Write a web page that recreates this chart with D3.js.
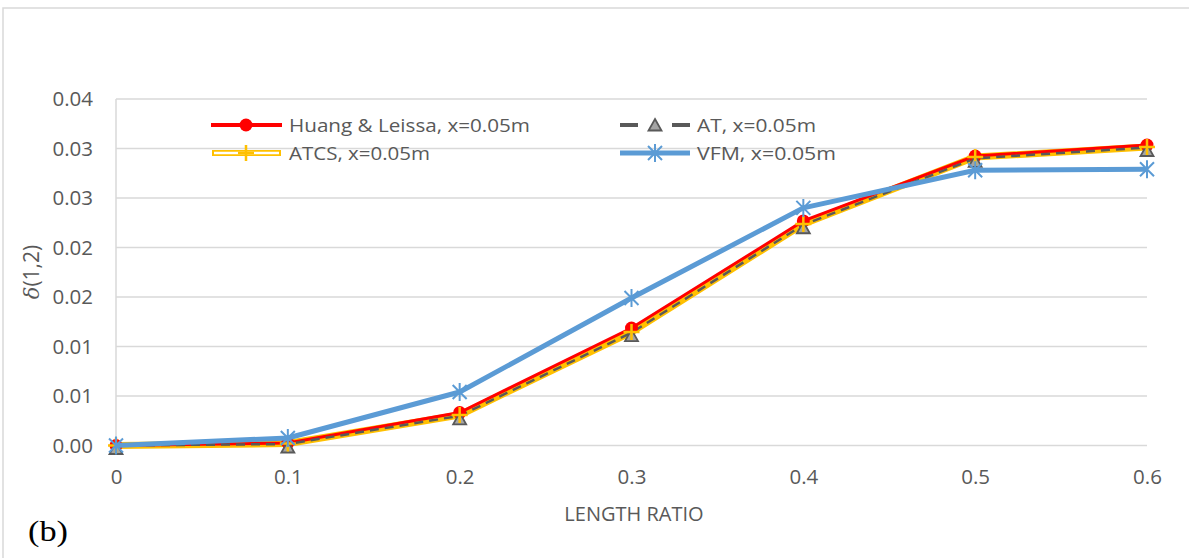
<!DOCTYPE html>
<html>
<head>
<meta charset="utf-8">
<script src="https://cdn.jsdelivr.net/npm/d3@7"></script>
<style>
  html, body { margin: 0; padding: 0; background: #fff; }
  svg { display: block; font-family: "Open Sans", "Noto Sans", sans-serif; }
</style>
</head>
<body>
<svg id="chart" width="1189" height="558"></svg>
<script>
// Length ratio values on the x axis
const lengthRatio = [0, 0.1, 0.2, 0.3, 0.4, 0.5, 0.6];

// δ(1,2) for each method at x = 0.05 m
const huangLeissa = [0, 0.00025, 0.00333, 0.01187, 0.02268, 0.02924, 0.03035];
const atValues    = [0, 0.00015, 0.00300, 0.01140, 0.02230, 0.02900, 0.03010];
const atcsValues  = [0, 0.00020, 0.00308, 0.01146, 0.02237, 0.02914, 0.03015];
const vfmValues   = [0, 0.00076, 0.00540, 0.01490, 0.02400, 0.02780, 0.02790];

// Axis ticks
const yTickValues = [0, 0.005, 0.01, 0.015, 0.02, 0.025, 0.03, 0.035];
const yTickLabels = ["0.00", "0.01", "0.01", "0.02", "0.02", "0.03", "0.03", "0.04"];
const xTickValues = [0, 0.1, 0.2, 0.3, 0.4, 0.5, 0.6];
const xTickLabels = ["0", "0.1", "0.2", "0.3", "0.4", "0.5", "0.6"];

const seriesNames = ["Huang & Leissa, x=0.05m", "AT, x=0.05m", "ATCS, x=0.05m", "VFM, x=0.05m"];

const svg = d3.select("#chart");
const grid = "#d9d9d9";
const textCol = "#595959";

// Outer chart frame
svg.append("rect").attr("x", 3).attr("y", 8).attr("width", 1200).attr("height", 600)
  .attr("fill", "none").attr("stroke", grid).attr("stroke-width", 1.5);

const x = d3.scaleLinear().domain([0, 0.6]).range([116, 1147]);
const y = d3.scaleLinear().domain([0, 0.035]).range([445.5, 99]);

// Horizontal gridlines
svg.append("g").selectAll("line").data(yTickValues).join("line")
  .attr("x1", x(0)).attr("x2", x(0.6))
  .attr("y1", d => y(d)).attr("y2", d => y(d))
  .attr("stroke", grid).attr("stroke-width", 1.5);

// Vertical axis line
svg.append("line").attr("x1", x(0)).attr("x2", x(0))
  .attr("y1", y(0.035)).attr("y2", y(0))
  .attr("stroke", grid).attr("stroke-width", 1.5);

// Y axis labels
const yAxis = d3.axisLeft(y).tickValues(yTickValues)
  .tickFormat((d, i) => yTickLabels[i]).tickSize(0).tickPadding(0);
const gy = svg.append("g").attr("transform", `translate(${x(0) - 23},0)`).call(yAxis);
gy.select(".domain").remove();
gy.selectAll("text").attr("font-size", 20.5).attr("fill", textCol)
  .attr("font-family", "'Open Sans', sans-serif");

// X axis labels
const xAxis = d3.axisBottom(x).tickValues(xTickValues)
  .tickFormat((d, i) => xTickLabels[i]).tickSize(0).tickPadding(0);
const gx = svg.append("g").attr("transform", `translate(0,${y(0) + 24})`).call(xAxis);
gx.select(".domain").remove();
gx.selectAll("text").attr("font-size", 20.5).attr("fill", textCol)
  .attr("font-family", "'Open Sans', sans-serif");

// Axis titles
svg.append("text").attr("x", 634).attr("y", 521).attr("text-anchor", "middle")
  .attr("font-size", 20).attr("fill", textCol).text("LENGTH RATIO");

const yTitle = svg.append("text")
  .attr("transform", "translate(39,272) rotate(-90)")
  .attr("text-anchor", "middle").attr("font-size", 21).attr("fill", textCol);
yTitle.append("tspan").attr("font-style", "italic").attr("font-family", "'DejaVu Serif', serif").text("δ");
yTitle.append("tspan").text("(1,2)");

svg.append("text").attr("x", 28).attr("y", 541)
  .attr("font-family", "'Liberation Serif', 'Times New Roman', serif")
  .attr("font-size", 29).attr("textLength", 40).attr("lengthAdjust", "spacingAndGlyphs")
  .attr("fill", "#000").text("(b)");

const line = d3.line().x((d, i) => x(lengthRatio[i])).y(d => y(d));

// Series lines
svg.append("path").datum(atcsValues).attr("d", line)
  .attr("fill", "none").attr("stroke", "#ffc000").attr("stroke-width", 7).attr("stroke-linejoin", "round");
svg.append("path").datum(huangLeissa).attr("d", line)
  .attr("fill", "none").attr("stroke", "#ff0000").attr("stroke-width", 3);
svg.append("path").datum(atValues).attr("d", line)
  .attr("fill", "none").attr("stroke", "#595959").attr("stroke-width", 2.5)
  .attr("stroke-dasharray", "9,6");

// Marker painters
function circleMarker(g, cx, cy) {
  g.append("circle").attr("cx", cx).attr("cy", cy).attr("r", 6.5).attr("fill", "#ff0000");
}
function triangleMarker(g, cx, cy) {
  g.append("path").attr("transform", `translate(${cx},${cy})`)
    .attr("d", "M0,-6 L6.5,5.5 L-6.5,5.5 Z")
    .attr("fill", "#a5a5a5").attr("stroke", "#595959").attr("stroke-width", 1.8);
}
function plusMarker(g, cx, cy) {
  g.append("path").attr("transform", `translate(${cx},${cy})`)
    .attr("d", "M-8,0 H8 M0,-8 V8")
    .attr("stroke", "#ffc000").attr("stroke-width", 2.5);
}
function starMarker(g, cx, cy) {
  g.append("path").attr("transform", `translate(${cx},${cy})`)
    .attr("d", "M-7,-7 L7,7 M-7,7 L7,-7 M0,-9 V9")
    .attr("stroke", "#5b9bd5").attr("stroke-width", 2);
}

const markers = svg.append("g");
huangLeissa.forEach((v, i) => circleMarker(markers, x(lengthRatio[i]), y(v)));
atValues.forEach((v, i) => triangleMarker(markers, x(lengthRatio[i]), y(v) + 3));
atcsValues.forEach((v, i) => plusMarker(markers, x(lengthRatio[i]), y(v)));

svg.append("path").datum(vfmValues).attr("d", line)
  .attr("fill", "none").attr("stroke", "#5b9bd5").attr("stroke-width", 5).attr("stroke-linejoin", "round");
const vfmMarkers = svg.append("g");
vfmValues.forEach((v, i) => starMarker(vfmMarkers, x(lengthRatio[i]), y(v)));

// Legend
const leg = svg.append("g").attr("font-size", 19).attr("fill", textCol);
const r1 = 125, r2 = 153;
const legendText = (tx, ty, label, w) => leg.append("text")
  .attr("x", tx).attr("y", ty + 7).attr("textLength", w).attr("lengthAdjust", "spacingAndGlyphs")
  .text(label);
// Huang & Leissa
leg.append("line").attr("x1", 211).attr("x2", 282).attr("y1", r1).attr("y2", r1)
  .attr("stroke", "#ff0000").attr("stroke-width", 4);
circleMarker(leg, 246, r1);
legendText(289, r1, seriesNames[0], 241);
// AT
leg.append("line").attr("x1", 620).attr("x2", 690).attr("y1", r1).attr("y2", r1)
  .attr("stroke", "#595959").attr("stroke-width", 4).attr("stroke-dasharray", "18,52");
leg.append("line").attr("x1", 672).attr("x2", 690).attr("y1", r1).attr("y2", r1)
  .attr("stroke", "#595959").attr("stroke-width", 4);
triangleMarker(leg, 655, r1);
legendText(697, r1, seriesNames[1], 119);
// ATCS
leg.append("line").attr("x1", 212).attr("x2", 281).attr("y1", r2).attr("y2", r2)
  .attr("stroke", "#ffc000").attr("stroke-width", 6);
leg.append("line").attr("x1", 214).attr("x2", 279).attr("y1", r2).attr("y2", r2)
  .attr("stroke", "#fff").attr("stroke-width", 2.5);
plusMarker(leg, 246, r2);
legendText(289, r2, seriesNames[2], 141);
// VFM
leg.append("line").attr("x1", 620).attr("x2", 690).attr("y1", r2).attr("y2", r2)
  .attr("stroke", "#5b9bd5").attr("stroke-width", 5);
starMarker(leg, 655, r2);
legendText(697, r2, seriesNames[3], 139);
</script>
</body>
</html>
